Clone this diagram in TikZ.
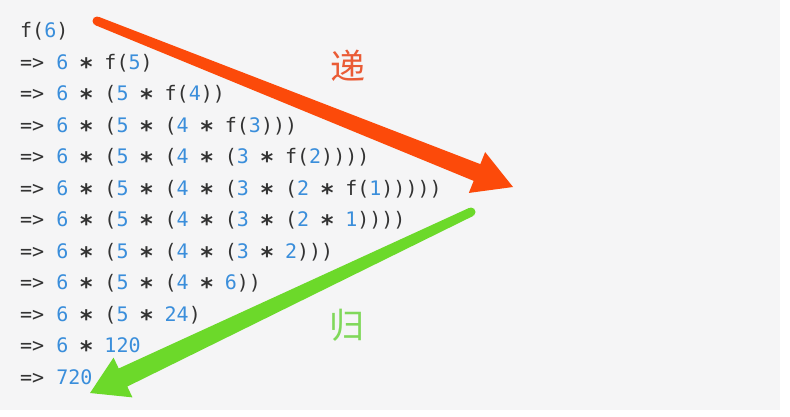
\documentclass[tikz,border=0pt]{standalone}
\usepackage{graphicx}
\usepackage{fontspec}
\setmonofont{DejaVu Sans Mono}
\newfontfamily\cjk{Noto Sans CJK SC}
\usetikzlibrary{calc}
\definecolor{bg}{HTML}{F5F5F6}
\definecolor{codegray}{HTML}{333333}
\definecolor{num}{HTML}{3A8EDB}
\definecolor{redarrow}{HTML}{FC4A0A}
\definecolor{greenarrow}{HTML}{6CD92A}
\definecolor{redtext}{HTML}{EA5B35}
\definecolor{greentext}{HTML}{80D85A}
\newcommand\nm[1]{\textcolor{num}{#1}}
\newcommand\st{\makebox[12.04pt]{\raisebox{-6pt}{\scalebox{1.2}{\bfseries *}}}}
\begin{document}
\begin{tikzpicture}[x=1pt,y=-1pt,
  codeline/.style={anchor=base west, inner sep=0pt, font=\ttfamily\fontsize{20}{20}\selectfont, text=codegray},
  biglabel/.style={anchor=base, inner sep=0pt, font=\cjk\fontsize{35}{35}\selectfont}]
\useasboundingbox (0,0) rectangle (790,416);
\fill[white] (0,0) rectangle (790,416);
\fill[bg] (0,0) rectangle (780,410);
% code lines
\node[codeline] (l0) at (20,37.5) {f(\nm{6})};
\node[codeline] (l1) at (20,69) {=> \nm{6} \st{} f(\nm{5})};
\node[codeline] (l2) at (20,100.5) {=> \nm{6} \st{} (\nm{5} \st{} f(\nm{4}))};
\node[codeline] (l3) at (20,132) {=> \nm{6} \st{} (\nm{5} \st{} (\nm{4} \st{} f(\nm{3})))};
\node[codeline] (l4) at (20,163.5) {=> \nm{6} \st{} (\nm{5} \st{} (\nm{4} \st{} (\nm{3} \st{} f(\nm{2}))))};
\node[codeline] (l5) at (20,195) {=> \nm{6} \st{} (\nm{5} \st{} (\nm{4} \st{} (\nm{3} \st{} (\nm{2} \st{} f(\nm{1})))))};
\node[codeline] (l6) at (20,226.5) {=> \nm{6} \st{} (\nm{5} \st{} (\nm{4} \st{} (\nm{3} \st{} (\nm{2} \st{} \nm{1}))))};
\node[codeline] (l7) at (20,258) {=> \nm{6} \st{} (\nm{5} \st{} (\nm{4} \st{} (\nm{3} \st{} \nm{2})))};
\node[codeline] (l8) at (20,289.5) {=> \nm{6} \st{} (\nm{5} \st{} (\nm{4} \st{} \nm{6}))};
\node[codeline] (l9) at (20,321) {=> \nm{6} \st{} (\nm{5} \st{} \nm{24})};
\node[codeline] (l10) at (20,352.5) {=> \nm{6} \st{} \nm{120}};
\node[codeline] (l11) at (20,384) {=> \nm{720}};
% labels
\node[biglabel, text=redtext] (di) at (348,79) {递};
\node[biglabel, text=greentext] (gui) at (347,338) {归};
% red arrow
\coordinate (rA) at (97,21);
\coordinate (rB) at (477,172.5);
\coordinate (rP) at (513,187);
\fill[redarrow] ($(rA)!4.5pt!90:(rB)$) -- ($(rB)!9pt!-90:(rA)$) -- ($(rB)!22pt!-90:(rA)$) -- (rP)
  -- ($(rB)!22pt!90:(rA)$) -- ($(rB)!9pt!90:(rA)$) -- ($(rA)!4.5pt!-90:(rB)$) -- cycle;
\fill[redarrow] (rA) circle (4.5);
% green arrow
\coordinate (gA) at (471,212);
\coordinate (gB) at (123,377.5);
\coordinate (gP) at (90,393);
\fill[greenarrow] ($(gA)!4.5pt!90:(gB)$) -- ($(gB)!10pt!-90:(gA)$) -- ($(gB)!22pt!-90:(gA)$) -- (gP)
  -- ($(gB)!22pt!90:(gA)$) -- ($(gB)!10pt!90:(gA)$) -- ($(gA)!4.5pt!-90:(gB)$) -- cycle;
\fill[greenarrow] (gA) circle (4.5);
\end{tikzpicture}
\end{document}
